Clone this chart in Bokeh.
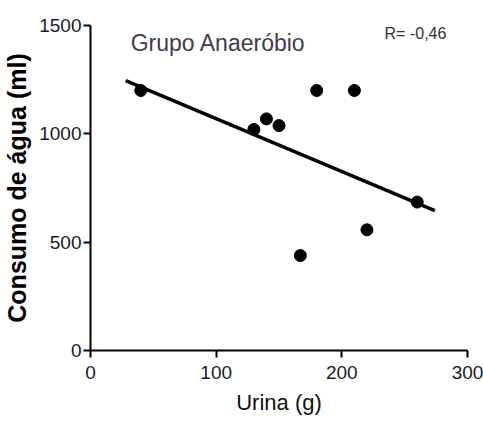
from bokeh.plotting import figure
from bokeh.models import Range1d, Label, FixedTicker
from bokeh.embed import file_html
from bokeh.resources import INLINE

# Data
urina = [40, 130, 140, 150, 180, 210, 167, 220, 260]
consumo = [1200, 1020, 1069, 1038, 1200, 1200, 438, 557, 685]
fit_x = [28, 274]
fit_y = [1246, 646]
x_ticks = [0, 100, 200, 300]
y_ticks = [0, 500, 1000, 1500]
title_text = "Grupo Anaeróbio"
r_text = "R= -0,46"

TICK_FONT = "Liberation Sans"

p = figure(width=483, height=426, output_backend="svg", toolbar_location=None,
           x_range=Range1d(0, 300), y_range=Range1d(0, 1500),
           min_border_left=87, min_border_right=16, min_border_top=25, min_border_bottom=76)
p.outline_line_color = None
p.grid.grid_line_color = None
p.background_fill_color = "white"
p.border_fill_color = "white"

p.line(fit_x, fit_y, line_color="black", line_width=3.5)
p.scatter(urina, consumo, size=12, color="black", marker="circle")

for ax in (p.xaxis[0], p.yaxis[0]):
    ax.axis_line_width = 2
    ax.axis_line_color = "black"
    ax.major_tick_line_width = 2
    ax.major_tick_line_color = "black"
    ax.major_tick_out = 7
    ax.major_tick_in = 0
    ax.minor_tick_line_color = None
    ax.major_label_text_font = TICK_FONT
    ax.major_label_text_font_size = "19px"
    ax.major_label_text_color = "#1a1a2a"

p.xaxis.ticker = FixedTicker(ticks=x_ticks)
p.yaxis.ticker = FixedTicker(ticks=y_ticks)
p.xaxis.major_label_standoff = 8
p.yaxis.major_label_standoff = 2

p.xaxis.axis_label = "Urina (g)"
p.xaxis.axis_label_text_font = "Liberation Sans"
p.xaxis.axis_label_text_font_size = "22px"
p.xaxis.axis_label_text_font_style = "normal"
p.xaxis.axis_label_text_color = "#111111"
p.xaxis.axis_label_standoff = 8

p.yaxis.axis_label = "Consumo de água (ml)"
p.yaxis.axis_label_text_font = "Liberation Sans"
p.yaxis.axis_label_text_font_size = "25px"
p.yaxis.axis_label_text_font_style = "bold"
p.yaxis.axis_label_text_color = "black"
p.yaxis.axis_label_standoff = 5

p.add_layout(Label(x=32, y=1417, text=title_text, text_font="Liberation Sans",
                   text_font_size="23px", text_color="#463a4e", text_baseline="alphabetic"))
p.add_layout(Label(x=234, y=1463, text=r_text, text_font="Liberation Sans",
                   text_font_size="16px", text_color="#333333", text_baseline="alphabetic"))

open("out.html", "w").write(file_html(p, INLINE))
